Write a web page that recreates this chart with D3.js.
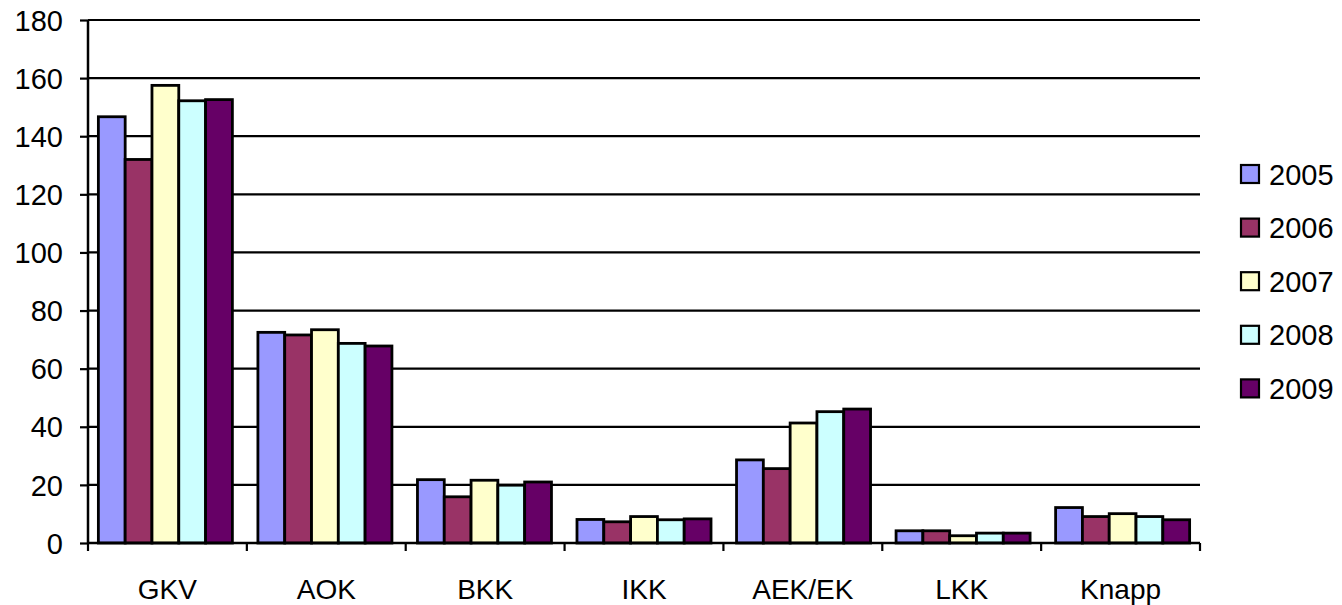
<!DOCTYPE html>
<html><head><meta charset="utf-8">
<script src="https://cdn.jsdelivr.net/npm/d3@7/dist/d3.min.js"></script>
<style>body{margin:0;background:#fff}svg{display:block}text{font-family:"Liberation Sans",Arial,sans-serif}</style>
</head><body><svg id="c" width="1342" height="605"></svg>
<script>
const categories = ["GKV","AOK","BKK","IKK","AEK/EK","LKK","Knapp"];
const seriesNames = ["2005","2006","2007","2008","2009"];
const v2005 = [146.7,72.5,21.8,8.1,28.6,4.2,12.2];
const v2006 = [132,71.6,15.9,7.3,25.6,4.2,9.1];
const v2007 = [157.5,73.4,21.6,9.1,41.3,2.5,10.1];
const v2008 = [152.2,68.7,19.9,8,45.2,3.4,9.1];
const v2009 = [152.6,67.8,21,8.3,46.1,3.4,8];
const yTicks = [0,20,40,60,80,100,120,140,160,180];
const colors = ["#9999FF","#993366","#FFFFCC","#CCFFFF","#660066"];
const series = [v2005,v2006,v2007,v2008,v2009];

const svg = d3.select("#c");
const L=88, R=1200, T=20, B=543;
const x = d3.scaleBand().domain(categories).range([L,R]).paddingInner(0.16).paddingOuter(0.065);
const x0 = d3.scaleBand().domain(categories).range([L,R]);
const xs = d3.scaleBand().domain(seriesNames).range([0,x.bandwidth()]);
const y = d3.scaleLinear().domain([0,180]).range([B,T]);

// gridlines
svg.append("g").selectAll("line").data(yTicks.filter(d=>d>0)).join("line")
  .attr("x1",L).attr("x2",R).attr("y1",d=>y(d)).attr("y2",d=>y(d))
  .attr("stroke","#000").attr("stroke-width",2.2);

// bars
const g = svg.append("g");
categories.forEach((c,ci)=>{
  series.forEach((s,si)=>{
    g.append("rect").attr("x",x(c)+xs(seriesNames[si])).attr("width",xs.bandwidth())
      .attr("y",y(s[ci])).attr("height",B-y(s[ci]))
      .attr("fill",colors[si]).attr("stroke","#000").attr("stroke-width",2.8);
  });
});

// y axis
const ya = svg.append("g").attr("transform",`translate(${L},0)`)
  .call(d3.axisLeft(y).tickValues(yTicks).tickSize(8).tickPadding(17));
ya.attr("font-size",null).attr("font-family",null);
ya.select(".domain").attr("stroke-width",2.5).attr("d",`M-0,${T}V${B}`);
ya.selectAll(".tick line").attr("stroke-width",2.2);
ya.selectAll("text").style("font-size","29px").attr("fill","#000").attr("dy","0.35em");

// x axis
const xa = svg.append("g").attr("transform",`translate(0,${B})`);
xa.append("line").attr("x1",L).attr("x2",R).attr("stroke","#000").attr("stroke-width",2.5);
const bounds = categories.map(c=>x0(c)).concat([R]);
xa.selectAll("line.tk").data(bounds).join("line").attr("class","tk")
  .attr("x1",d=>d).attr("x2",d=>d).attr("y1",0).attr("y2",8).attr("stroke","#000").attr("stroke-width",2.2);
xa.selectAll("text").data(categories).join("text")
  .attr("x",d=>x0(d)+x0.bandwidth()/2).attr("y",56).attr("text-anchor","middle")
  .style("font-size","28px").text(d=>d);

// legend
const lg = svg.append("g");
seriesNames.forEach((n,i)=>{
  const cy = 174 + i*53.6;
  lg.append("rect").attr("x",1241).attr("y",cy-9).attr("width",18).attr("height",18)
    .attr("fill",colors[i]).attr("stroke","#000").attr("stroke-width",2.2);
  lg.append("text").attr("x",1269).attr("y",cy+10.5).style("font-size","29px").text(n);
});
</script></body></html>
